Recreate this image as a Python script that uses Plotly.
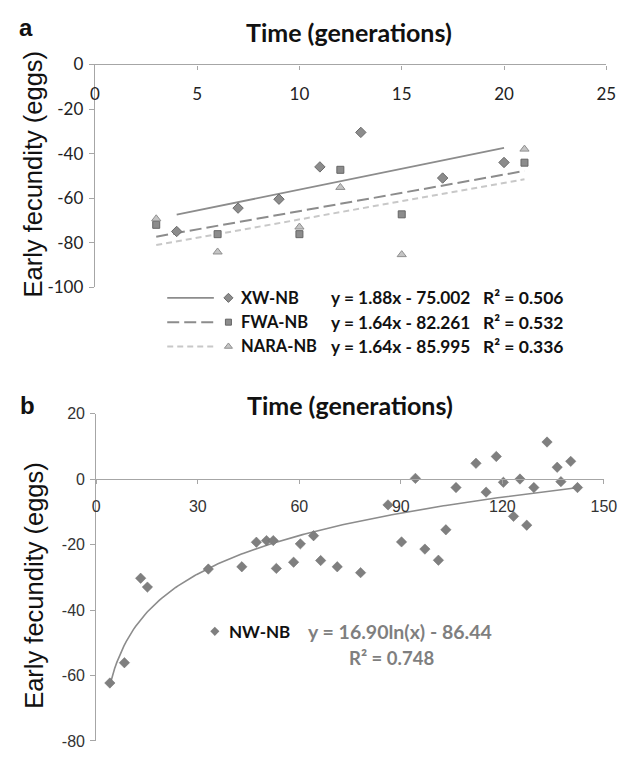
import numpy as np
import plotly.graph_objects as go

# ---------------- data: panel a ----------------
xw_x = [4, 7, 9, 11, 13, 17, 20]
xw_y = [-75, -64.5, -60.5, -46, -30.5, -51, -44]
fwa_x = [3, 6, 10, 12, 15, 21]
fwa_y = [-72, -76.2, -76.2, -47.3, -67.3, -44.1]
nara_x = [3, 6, 10, 12, 15, 21]
nara_y = [-69.3, -84.2, -73, -55.2, -85.4, -38]
names_a = ["XW-NB", "FWA-NB", "NARA-NB"]
slopes_a = [1.88, 1.64, 1.64]
intercepts_a = [-75.002, -82.261, -85.995]
r2_a = [0.506, 0.532, 0.336]
xticks_a = [0, 5, 10, 15, 20, 25]
yticks_a = [0, -20, -40, -60, -80, -100]

# ---------------- data: panel b ----------------
nw_x = [4, 8.3, 13.1, 15.1, 33.1, 43, 47.3, 50.3, 52.3, 53.2, 58.3, 60.3,
        64.2, 66.3, 71.2, 78.1, 86.2, 90.2, 94.3, 97.1, 101.1, 103.3, 106.3,
        112.2, 115.2, 118.2, 120.3, 123.3, 125.2, 127.2, 129.3, 133.2, 136.2,
        137.3, 140.2, 142.2]
nw_y = [-62.3, -56.1, -30.3, -33, -27.5, -26.8, -19.3, -18.8, -18.8, -27.3,
        -25.4, -19.8, -17.3, -24.9, -26.8, -28.6, -7.9, -19.2, 0.2, -21.4,
        -24.8, -15.5, -2.6, 4.8, -4, 6.9, -1, -11.4, 0, -14.1, -2.6, 11.3,
        3.6, -0.8, 5.4, -2.6]
name_b = "NW-NB"
log_coef = 16.90
log_const = -86.44
r2_b = 0.748
xticks_b = [0, 30, 60, 90, 120, 150]
yticks_b = [20, 0, -20, -40, -60, -80]

# ---------------- layout (pixels) ----------------
W, H = 630, 760
PA = dict(x0=92.5, x1=619, top=55, bot=284, xr=[0, 25], yr=[-100, 0])
PB = dict(x0=94, x1=616.5, top=414, bot=750.7, xr=[0, 150], yr=[-80, 20])

def xdom(p):
    return [p["x0"] / W, p["x1"] / W]

def ydom(p):
    return [1 - p["bot"] / H, 1 - p["top"] / H]

def zero_pos(p):
    d = ydom(p)
    return d[0] + (0 - p["yr"][0]) / (p["yr"][1] - p["yr"][0]) * (d[1] - d[0])

AX_COL = "#a6a6a6"
CAL = "Lato, Carlito, Calibri, sans-serif"
ARI = "Liberation Sans, Arial, sans-serif"

fig = go.Figure()

# panel a scatter + trend lines
styles_a = [
    dict(sym="diamond", size=8, fill="#8c8c8c", edge="#6b6b6b",
         lcol="#8c8c8c", dash="solid", lw=1.8),
    dict(sym="square", size=7, fill="#8c8c8c", edge="#666666",
         lcol="#8c8c8c", dash="12px,5px", lw=2),
    dict(sym="triangle-up", size=8, fill="#c4c4c4", edge="#8f8f8f",
         lcol="#c8c8c8", dash="6px,4px", lw=2),
]
series_a = [(xw_x, xw_y), (fwa_x, fwa_y), (nara_x, nara_y)]
for (sx, sy), st, m, c in zip(series_a, styles_a, slopes_a, intercepts_a):
    lx = np.array([min(sx), max(sx)], dtype=float)
    fig.add_trace(go.Scatter(x=lx, y=m * lx + c, mode="lines",
                             line=dict(color=st["lcol"], width=st["lw"], dash=st["dash"]),
                             xaxis="x", yaxis="y", hoverinfo="skip"))
for (sx, sy), st in zip(series_a, styles_a):
    fig.add_trace(go.Scatter(x=sx, y=sy, mode="markers",
                             marker=dict(symbol=st["sym"], size=st["size"], color=st["fill"],
                                         line=dict(color=st["edge"], width=1)),
                             xaxis="x", yaxis="y", cliponaxis=False))

# panel b scatter + log trend
lxb = np.linspace(min(nw_x), max(nw_x), 200)
fig.add_trace(go.Scatter(x=lxb, y=log_coef * np.log(lxb) + log_const, mode="lines",
                         line=dict(color="#8c8c8c", width=1.6),
                         xaxis="x2", yaxis="y2", hoverinfo="skip"))
fig.add_trace(go.Scatter(x=nw_x, y=nw_y, mode="markers",
                         marker=dict(symbol="diamond", size=8, color="#7f7f7f",
                                     line=dict(color="#6e6e6e", width=0.5)),
                         xaxis="x2", yaxis="y2", cliponaxis=False))

# ---------------- legend glyphs (pixel overlay axes) ----------------
LEG_A_ROWS = [295, 320, 345]
LEG_A_LINE = (167, 215)
LEG_A_MARK = 230
LEG_A_NAME = 241
LEG_A_EQ = 334
LEG_A_R2 = 490
for yrow, st in zip(LEG_A_ROWS, styles_a):
    fig.add_trace(go.Scatter(x=list(LEG_A_LINE), y=[yrow, yrow], mode="lines",
                             line=dict(color=st["lcol"], width=st["lw"], dash=st["dash"]),
                             xaxis="x3", yaxis="y3", hoverinfo="skip"))
    fig.add_trace(go.Scatter(x=[LEG_A_MARK], y=[yrow], mode="markers",
                             marker=dict(symbol=st["sym"], size=st["size"] - 1, color=st["fill"],
                                         line=dict(color=st["edge"], width=1)),
                             xaxis="x3", yaxis="y3", hoverinfo="skip"))
LEG_B = dict(mark=(216, 638), name=(229, 638), eq=(310, 638), r2=(398, 665))
fig.add_trace(go.Scatter(x=[LEG_B["mark"][0]], y=[LEG_B["mark"][1]], mode="markers",
                         marker=dict(symbol="diamond", size=7, color="#7f7f7f"),
                         xaxis="x3", yaxis="y3", hoverinfo="skip"))

ann = []
def txt(x, y, s, size, family, color="#111111", bold=True, xanchor="left", angle=0):
    ann.append(dict(x=x, y=y, xref="x3", yref="y3", text=("<b>%s</b>" % s) if bold else s,
                    showarrow=False, xanchor=xanchor, yanchor="middle", textangle=angle,
                    font=dict(size=size, family=family, color=color)))

for yrow, nm, m, c, r2 in zip(LEG_A_ROWS, names_a, slopes_a, intercepts_a, r2_a):
    txt(LEG_A_NAME, yrow, nm, 16.5, CAL)
    txt(LEG_A_EQ, yrow, "y = %.2fx - %.3f" % (m, -c), 17.3, CAL)
    txt(LEG_A_R2, yrow, "R² = %.3f" % r2, 17.5, CAL)

txt(LEG_B["name"][0], LEG_B["name"][1], name_b, 17, CAL)
txt(LEG_B["eq"][0], LEG_B["eq"][1], "y = %.2fln(x) - %.2f" % (log_coef, -log_const), 19.5, CAL, color="#7f7f7f")
txt(LEG_B["r2"][0], LEG_B["r2"][1], "R² = %.3f" % r2_b, 18.5, CAL, color="#7f7f7f", xanchor="center")

# titles and labels
txt(354, 22, "Time (generations)", 25, CAL, xanchor="center")
txt(355, 405, "Time (generations)", 25, CAL, xanchor="center")
txt(22, 17, "a", 24, ARI, xanchor="center")
txt(23, 406, "b", 24, ARI, xanchor="center")
txt(29, 168, "Early fecundity (eggs)", 25.5, ARI, bold=False, xanchor="center", angle=-90)
txt(29, 591, "Early fecundity (eggs)", 25.5, ARI, bold=False, xanchor="center", angle=-90)

def xaxis_cfg(p, ticks, fam, size, col, standoff):
    return dict(domain=xdom(p), range=p["xr"], anchor="free", position=zero_pos(p),
                side="bottom", showline=True, linecolor=AX_COL, linewidth=1.3,
                ticks="outside", ticklen=4, tickcolor=AX_COL, tickwidth=1,
                tickvals=ticks, ticktext=[str(t) for t in ticks],
                tickfont=dict(family=fam, size=size, color=col),
                ticklabelstandoff=standoff,
                showgrid=False, zeroline=False)

def yaxis_cfg(p, anchor, ticks, fam, size, col):
    return dict(domain=ydom(p), range=p["yr"], anchor=anchor, showline=True,
                linecolor=AX_COL, linewidth=1.3, ticks="outside", ticklen=5,
                tickcolor=AX_COL, tickwidth=1, tickvals=ticks,
                ticktext=[str(t) for t in ticks],
                tickfont=dict(family=fam, size=size, color=col),
                ticklabelstandoff=2,
                showgrid=False, zeroline=False)

fig.update_layout(
    width=W, height=H, autosize=False,
    margin=dict(l=0, r=0, t=0, b=0),
    paper_bgcolor="white", plot_bgcolor="rgba(0,0,0,0)",
    showlegend=False,
    xaxis=xaxis_cfg(PA, xticks_a, CAL, 17, "#222222", 10),
    yaxis=yaxis_cfg(PA, "x", yticks_a, CAL, 17, "#222222"),
    xaxis2=xaxis_cfg(PB, xticks_b, ARI, 16, "#333333", 9),
    yaxis2=yaxis_cfg(PB, "x2", yticks_b, ARI, 16, "#333333"),
    xaxis3=dict(domain=[0, 1], range=[0, W], visible=False, fixedrange=True),
    yaxis3=dict(domain=[0, 1], range=[H, 0], visible=False, fixedrange=True, anchor="x3"),
    annotations=ann,
)

fig.write_html("out.html", config={"displayModeBar": False},
               post_script="document.body.style.margin='0px';")
